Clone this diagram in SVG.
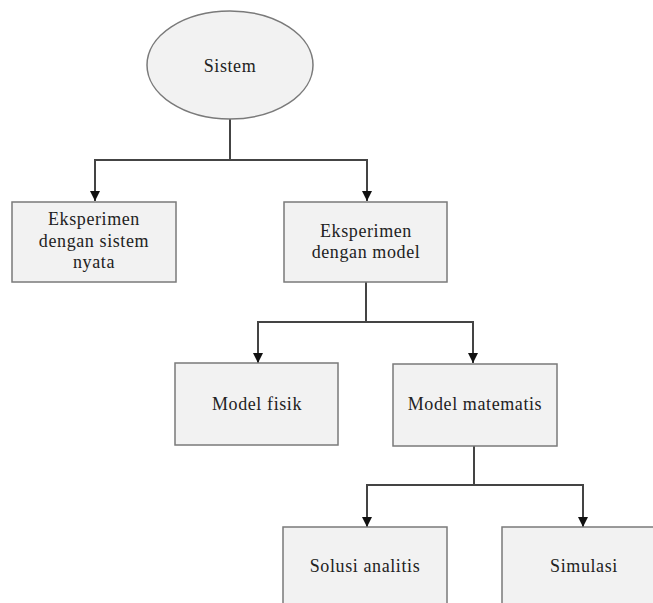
<svg xmlns="http://www.w3.org/2000/svg" width="653" height="603" viewBox="0 0 653 603">
<defs>
<marker id="arr" viewBox="0 0 10 10" refX="10" refY="5" markerWidth="10" markerHeight="10" markerUnits="userSpaceOnUse" orient="auto">
<path d="M0,0 L10,5 L0,10 Z" fill="#111"/>
</marker>
<style>
.box{fill:#f2f2f2;stroke:#7a7a7a;stroke-width:1.5}
.t{font-family:"Liberation Serif","Times New Roman",serif;font-size:18px;fill:#222;text-anchor:middle;letter-spacing:0.6px}
.c{fill:none;stroke:#444;stroke-width:2}
.a{fill:none;stroke:#444;stroke-width:2;marker-end:url(#arr)}
</style>
</defs>
<rect width="653" height="603" fill="#fff"/>
<g id="connectors">
<path class="c" d="M230,119 V160"/>
<path class="c" d="M94,160 H368"/>
<path class="a" d="M95,160 V201"/>
<path class="a" d="M367,160 V201"/>
<path class="c" d="M366,282 V322"/>
<path class="c" d="M257,322 H474"/>
<path class="a" d="M258,322 V363"/>
<path class="a" d="M473,322 V363"/>
<path class="c" d="M474,446 V485"/>
<path class="c" d="M366,485 H584"/>
<path class="a" d="M367,485 V527"/>
<path class="a" d="M583,485 V527"/>
</g>
<g id="sistem">
<ellipse class="box" cx="230" cy="65" rx="83" ry="54"/>
<text class="t" x="230" y="72">Sistem</text>
</g>
<g id="eksperimen-nyata">
<rect class="box" x="12" y="202" width="164" height="80"/>
<text class="t" x="94" y="225">Eksperimen</text>
<text class="t" x="94" y="247">dengan sistem</text>
<text class="t" x="94" y="268">nyata</text>
</g>
<g id="eksperimen-model">
<rect class="box" x="284" y="202" width="163" height="80"/>
<text class="t" x="366" y="237">Eksperimen</text>
<text class="t" x="366" y="258">dengan model</text>
</g>
<g id="model-fisik">
<rect class="box" x="175" y="363" width="163" height="82"/>
<text class="t" x="257" y="410">Model fisik</text>
</g>
<g id="model-matematis">
<rect class="box" x="393" y="364" width="164" height="82"/>
<text class="t" x="475" y="410">Model matematis</text>
</g>
<g id="solusi-analitis">
<rect class="box" x="283" y="527" width="164" height="85"/>
<text class="t" x="365" y="572">Solusi analitis</text>
</g>
<g id="simulasi">
<rect class="box" x="502" y="527" width="164" height="85"/>
<text class="t" x="584" y="572">Simulasi</text>
</g>
</svg>
